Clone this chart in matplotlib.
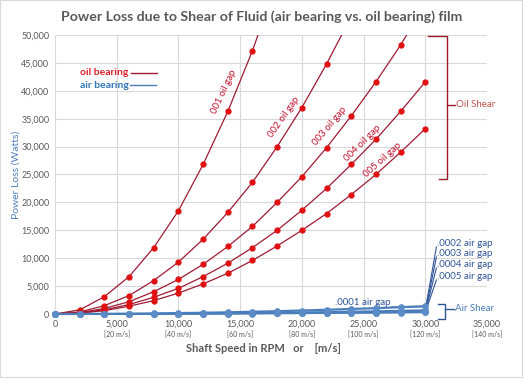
import matplotlib
matplotlib.use("Agg")
import matplotlib.pyplot as plt
from matplotlib.patches import Rectangle
import matplotlib.transforms as mtransforms

plt.rcParams['font.family'] = ['Lato', 'DejaVu Sans']

# shaft speed (RPM)
rpm = [0, 2000, 4000, 6000, 8000, 10000, 12000, 14000, 16000,
       18000, 20000, 22000, 24000, 26000, 28000, 30000]

# oil film power loss (W) - points past the top of the chart are clipped
oil_001 = [0, 740, 3100, 6700, 11900, 18500, 26800, 36300, 47200, 59800]
oil_002 = [0, 370, 1500, 3300, 6000, 9300, 13400, 18200, 23600, 30000,
           37000, 44800, 53300]
oil_003 = [0, 250, 1000, 2200, 4000, 6200, 8900, 12100, 15700, 20000,
           24600, 29800, 35500, 41600, 48200, 55500]
oil_004 = [0, 190, 750, 1700, 3000, 4600, 6700, 9100, 11900, 15000,
           18600, 22500, 26800, 31300, 36300, 41600]
oil_005 = [0, 150, 600, 1400, 2400, 3750, 5400, 7300, 9600, 12200,
           15000, 18000, 21400, 25000, 29000, 33200]

# air film power loss (W)
air_0001 = [0, 10, 30, 60, 100, 160, 220, 300, 400, 500, 620, 760, 900, 1050, 1220, 1400]
air_0002 = [0, 5, 15, 30, 50, 80, 110, 150, 200, 250, 310, 380, 450, 530, 610, 700]
air_0003 = [0, 3, 10, 20, 35, 55, 75, 100, 135, 170, 210, 250, 300, 350, 410, 470]
air_0004 = [0, 2, 8, 15, 25, 40, 55, 75, 100, 125, 155, 190, 225, 265, 305, 350]
air_0005 = [0, 2, 6, 12, 20, 32, 45, 60, 80, 100, 125, 150, 180, 210, 245, 280]

oil_curves = [oil_001, oil_002, oil_003, oil_004, oil_005]
air_curves = [air_0001, air_0002, air_0003, air_0004, air_0005]

oil_labels = ["001 oil gap", "002 oil gap", "003 oil gap", "004 oil gap", "005 oil gap"]
oil_label_pos = [(13650, 39900, 65), (18550, 35250, 55), (22230, 33700, 50),
                 (24900, 30700, 45), (26560, 27650, 42)]
air_labels = [".0002 air gap", ".0003 air gap", ".0004 air gap", ".0005 air gap"]
air_label_y = [12700, 10900, 8950, 6800]

xticks = [0, 5000, 10000, 15000, 20000, 25000, 30000, 35000]
xtick_text = ["0", "5,000", "10,000", "15,000", "20,000", "25,000", "30,000", "35,000"]
xtick_ms = ["", "[20 m/s]", "[40 m/s]", "[60 m/s]", "[80 m/s]", "[100 m/s]", "[120 m/s]", "[140 m/s]"]

OIL_LINE = '#9E1B32'
OIL_MARK = '#E01010'
AIR_LINE = '#4A7EBB'
AIR_MARK = '#5B8CC8'
GREY = '#595959'

fig = plt.figure(figsize=(5.32, 3.9), dpi=100)
ax = fig.add_axes([55/532, 1 - 314/390, 432/532, 279/390])

for ys in oil_curves:
    ax.plot(rpm[:len(ys)], ys, '-', color=OIL_LINE, lw=0.9,
            marker='o', ms=3.5, mfc=OIL_MARK, mec=OIL_MARK, zorder=3)

for i, ys in enumerate(air_curves):
    ax.plot(rpm, ys, '-', color=AIR_LINE, lw=1.6 if i == 0 else 1.2,
            marker='o', ms=3.8, mfc=AIR_MARK, mec=AIR_MARK, zorder=4, clip_on=False)

ax.set_xlim(0, 35000)
ax.set_ylim(0, 50000)
ax.set_xticks(xticks)
ax.set_xticklabels(xtick_text, fontsize=6.5, color=GREY)
ax.set_yticks(range(0, 50001, 5000))
ax.set_yticklabels([f"{v:,}" for v in range(0, 50001, 5000)], fontsize=6.5, color=GREY)
ax.tick_params(length=0, pad=4)
ax.grid(True, color='#D9D9D9', lw=0.8)
ax.set_axisbelow(True)
for s in ax.spines.values():
    s.set_visible(False)

# speed in m/s under the rpm ticks
trans = mtransforms.blended_transform_factory(ax.transData, ax.transAxes)
for x, t in zip(xticks, xtick_ms):
    if t:
        ax.text(x, -0.075, t, transform=trans, ha='center', va='center',
                fontsize=5, color=GREY)

# curve labels
for lab, (x, y, r) in zip(oil_labels, oil_label_pos):
    ax.text(x, y, lab, rotation=r, ha='center', va='center', fontsize=7,
            color='#C0102A', rotation_mode='anchor')

for lab, y, ys in zip(air_labels, air_label_y, air_curves[1:]):
    ax.plot([30000, 30900], [ys[-1], y - 700], color='#2F5597', lw=0.8, clip_on=False)
    ax.text(30950, y, lab, ha='left', va='center', fontsize=7, color='#2F5597')
ax.text(24900, 2150, ".0001 air gap", ha='center', va='center', fontsize=7, color='#2F5597')
ax.plot([27300, 29900], [1250, 1300], color='#2F5597', lw=0.8)

# bracket for oil shear
ax.plot([30250, 31770, 31770, 31100], [49800, 49800, 24200, 24200],
        color='#A0182A', lw=1, clip_on=False)
ax.plot([31770, 32400], [37460, 37460], color='#A0182A', lw=1, clip_on=False)
ax.text(32500, 37460, "Oil Shear", ha='left', va='center', fontsize=7,
        color='#C0504D', clip_on=False)

# bracket for air shear
ax.plot([31050, 31600, 31600, 31050], [1790, 1790, -900, -900],
        color='#2F5597', lw=1, clip_on=False)
ax.plot([31600, 32300], [900, 900], color='#2F5597', lw=1, clip_on=False)
ax.text(32400, 900, "Air Shear", ha='left', va='center', fontsize=7,
        color='#4A7EBB', clip_on=False)

# legend drawn by hand
ax.text(5950, 43200, "oil bearing", ha='right', va='center', fontsize=7.5,
        fontweight='bold', color='#E0202A')
ax.plot([6150, 8250], [43200, 43200], color=OIL_LINE, lw=1)
ax.text(5950, 41000, "air bearing", ha='right', va='center', fontsize=7.5,
        fontweight='bold', color='#2E75B6')
ax.plot([6050, 8200], [41000, 41000], color=AIR_LINE, lw=1)

ax.set_ylabel("Power Loss (Watts)", fontsize=7.5, color='#4F81BD')
ax.yaxis.set_label_coords(-0.08, 0.5)
fig.text(263/532, 1 - 349/390, "Shaft Speed in RPM   or    [m/s]", ha='center',
         va='center', fontsize=8, fontweight='bold', color=GREY)
fig.text(262/532, 1 - 17/390,
         "Power Loss due to Shear of Fluid (air bearing vs. oil bearing) film",
         ha='center', va='center', fontsize=10.2, fontweight='bold', color=GREY)

fig.patches.append(Rectangle((0, 1 - 377/390), 522/532, 377/390, transform=fig.transFigure,
                             fill=False, edgecolor='#D9D9D9', lw=0.8))

fig.savefig("out.png", dpi=100)
